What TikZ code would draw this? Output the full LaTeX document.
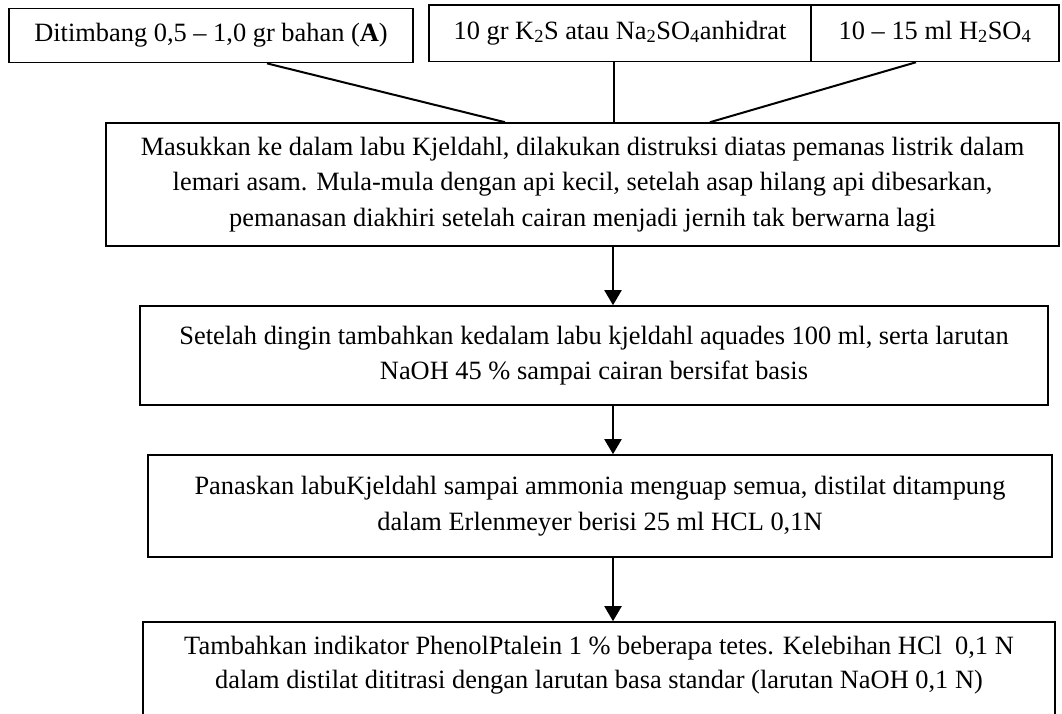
\documentclass[tikz,border=0pt]{standalone}
\usepackage{fontspec}
\setmainfont{Liberation Serif}
\usetikzlibrary{arrows.meta}
\begin{document}
\begin{tikzpicture}[x=1pt,y=-1pt,
  box/.style={draw,line width=1.6pt,inner sep=0pt,align=center,font=\fontsize{26.4}{35.5}\selectfont},
  topbox/.style={draw,line width=1.6pt,inner sep=0pt,text height=18pt,text depth=6pt,font=\fontsize{26.4}{35.5}\selectfont},
  txt/.style={inner sep=0pt,align=center,font=\fontsize{26.4}{34}\selectfont},
  link/.style={line width=2pt},
  flow/.style={line width=2pt,-{Triangle[width=17pt,length=15pt]}}]
\useasboundingbox (0,0) rectangle (1062,713);
\clip (0,0) rectangle (1062,713);
\coordinate (ax) at (613,0);
\coordinate (lb) at (613.5,0);
% top boxes
\node[topbox,minimum width=404pt,minimum height=54pt] (a) at (211,35.6) {Ditimbang 0,5 -- 1,0 gr bahan (\textbf{A})};
\node[topbox,minimum width=382pt,minimum height=56.5pt] (b) at (620,33.2) {10 gr K\textsubscript{2}S atau Na\textsubscript{2}SO\textsubscript{4}anhidrat};
\node[topbox,minimum width=248pt,minimum height=56.5pt] (c) at (935,33.2) {10 -- 15 ml H\textsubscript{2}SO\textsubscript{4}};
% main box
\node[box,minimum width=953pt,minimum height=123pt] (m) at (582.5,184.5) {Masukkan ke dalam labu Kjeldahl, dilakukan distruksi diatas pemanas listrik dalam\\lemari asam. Mula-mula dengan api kecil, setelah asap hilang api dibesarkan,\\pemanasan diakhiri setelah cairan menjadi jernih tak berwarna lagi};
\node[box,minimum width=908pt,minimum height=99pt] (s2) at (594,355.5) {Setelah dingin tambahkan kedalam labu kjeldahl aquades 100 ml, serta larutan\\NaOH 45 \% sampai cairan bersifat basis};
\node[box,minimum width=904pt,minimum height=102pt] (s3) at (600,506) {Panaskan labuKjeldahl sampai ammonia menguap semua, distilat ditampung\\dalam Erlenmeyer berisi 25 ml HCL 0,1N};
\node[box,minimum width=912pt,minimum height=118pt] (s4) at (599,681) {};
\node[txt] (t4) at (599,665) {Tambahkan indikator PhenolPtalein 1 \% beberapa tetes. Kelebihan HCl~~0,1 N\\dalam distilat dititrasi dengan larutan basa standar (larutan NaOH 0,1 N)};
% connectors
\draw[link] ([xshift=56pt]a.south) -- ([xshift=-77.5pt]m.north);
\draw[link] (b.south -| lb) -- (m.north -| lb);
\draw[link] ([xshift=-19pt]c.south) -- ([xshift=127.5pt]m.north);
\draw[flow] (m.south -| ax) -- (s2.north -| ax);
\draw[flow] (s2.south -| ax) -- (s3.north -| ax);
\draw[flow] (s3.south -| ax) -- (s4.north -| ax);
\end{tikzpicture}
\end{document}
